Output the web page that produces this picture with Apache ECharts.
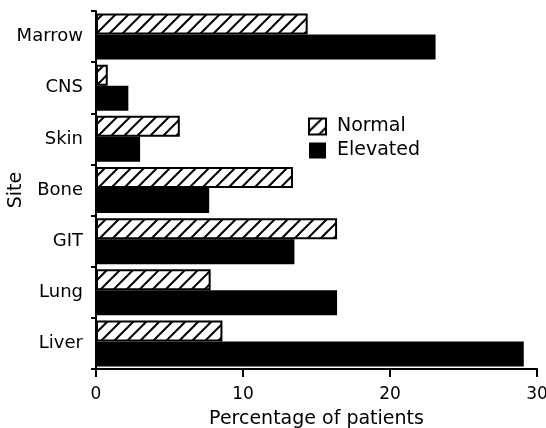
<!DOCTYPE html>
<html>
<head>
<meta charset="utf-8">
<script src="https://cdn.jsdelivr.net/npm/echarts@6/dist/echarts.min.js"></script>
<style>
  html, body { margin: 0; padding: 0; background: #fff; }
  #chart { width: 546px; height: 428px; }
</style>
</head>
<body>
<div id="chart"></div>
<script>
// Sites of involvement, listed top to bottom
const sites = ['Marrow', 'CNS', 'Skin', 'Bone', 'GIT', 'Lung', 'Liver'];
// Percentage of patients per site
const normalPct   = [14.4, 0.8, 5.7, 13.4, 16.4, 7.8, 8.6];
const elevatedPct = [23.1, 2.2, 3.0, 7.7, 13.5, 16.4, 29.1];
// Value axis ticks
const xTicks = [0, 10, 20, 30];

const FONT = 'DejaVu Sans';

// Diagonal "/" hatching tile for the Normal bars
function hatchTile() {
  const s = 13;
  const c = document.createElement('canvas');
  c.width = s; c.height = s;
  const g = c.getContext('2d');
  g.fillStyle = '#fff';
  g.fillRect(0, 0, s, s);
  g.strokeStyle = '#000';
  g.lineWidth = 2;
  g.beginPath();
  g.moveTo(-2, s + 2); g.lineTo(s + 2, -2);
  g.moveTo(-2, 2); g.lineTo(2, -2);
  g.moveTo(s - 2, s + 2); g.lineTo(s + 2, s - 2);
  g.stroke();
  return c;
}

const chart = echarts.init(document.getElementById('chart'), null, { renderer: 'canvas' });

chart.setOption({
  animation: false,
  backgroundColor: '#fff',
  textStyle: { fontFamily: FONT, color: '#000' },
  grid: { left: 96, right: 9, top: 11, bottom: 59, containLabel: false, outerBoundsMode: 'none' },
  legend: {
    data: ['Normal', 'Elevated'],
    orient: 'vertical',
    left: 303,
    top: 112,
    icon: 'rect',
    itemWidth: 17,
    itemHeight: 16,
    itemGap: 5,
    textStyle: { fontFamily: FONT, fontSize: 19, color: '#000', padding: [0, 0, 0, 6] }
  },
  xAxis: {
    type: 'value',
    min: xTicks[0],
    max: xTicks[xTicks.length - 1],
    interval: xTicks[1] - xTicks[0],
    name: 'Percentage of patients',
    nameLocation: 'middle',
    nameGap: 41,
    nameMoveOverlap: false,
    nameTextStyle: { fontFamily: FONT, fontSize: 19, color: '#000' },
    axisLine: { show: true, lineStyle: { color: '#000', width: 2 } },
    axisTick: { show: true, length: 8, lineStyle: { color: '#000', width: 2 } },
    axisLabel: { fontFamily: FONT, fontSize: 17, color: '#000', margin: 17 },
    splitLine: { show: false }
  },
  yAxis: {
    type: 'category',
    data: sites,
    inverse: true,
    name: 'Site',
    nameLocation: 'middle',
    nameGap: 70,
    nameRotate: 90,
    nameMoveOverlap: false,
    nameTextStyle: { fontFamily: FONT, fontSize: 19, color: '#000' },
    axisLine: { show: true, lineStyle: { color: '#000', width: 2 } },
    axisTick: { show: true, length: 5, lineStyle: { color: '#000', width: 2 } },
    axisLabel: { fontFamily: FONT, fontSize: 18, color: '#000', margin: 13 },
    splitLine: { show: false }
  },
  series: [
    {
      name: 'Normal',
      type: 'bar',
      data: normalPct,
      barWidth: 21,
      barGap: '0%',
      itemStyle: {
        color: { image: hatchTile(), repeat: 'repeat' },
        borderColor: '#000',
        borderWidth: 2
      }
    },
    {
      name: 'Elevated',
      type: 'bar',
      data: elevatedPct,
      barWidth: 25,
      barGap: '0%',
      itemStyle: { color: '#000' }
    }
  ]
});
</script>
</body>
</html>
